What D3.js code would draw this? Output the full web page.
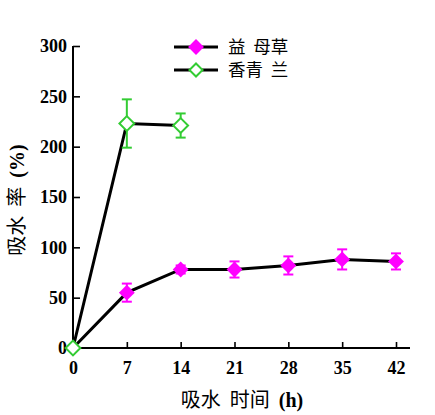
<!DOCTYPE html>
<html>
<head>
<meta charset="utf-8">
<script src="https://cdn.jsdelivr.net/npm/d3@7"></script>
<style>
  body { margin: 0; background: #fff; }
  svg { display: block; }
  text { white-space: pre; }
</style>
</head>
<body>
<script>
// values
const hours = [0, 7, 14, 21, 28, 35, 42];
const yimucao = [0, 55, 78, 78, 82, 88, 86];
const yimucaoErr = [0, 9, 4, 8, 9, 10, 8];
const xiangqinglan = [0, 223, 221];
const xiangqinglanErr = [0, 24, 12];
const yTicks = [0, 50, 100, 150, 200, 250, 300];
const seriesNames = ["益  母草", "香青  兰"];

const width = 435, height = 415;
const margin = { left: 73, right: 25, top: 46, bottom: 67 };

const svg = d3.select("body").append("svg")
    .attr("width", width)
    .attr("height", height);

const x = d3.scaleLinear().domain([0, 42]).range([margin.left, 396]);
const y = d3.scaleLinear().domain([0, 300]).range([height - margin.bottom, margin.top]);

const tickFont = "'Liberation Serif', 'Times New Roman', serif";
const cjkFont = "'Noto Sans CJK SC', sans-serif";

// axes
const xAxis = svg.append("g")
    .attr("transform", `translate(0,${y(0)})`)
    .call(d3.axisBottom(x).tickValues(hours).tickSize(-6).tickPadding(13));
xAxis.select(".domain").remove();
xAxis.append("line")
    .attr("x1", margin.left).attr("x2", 410)
    .attr("stroke", "#000").attr("stroke-width", 2);

const yAxis = svg.append("g")
    .attr("transform", `translate(${margin.left},0)`)
    .call(d3.axisLeft(y).tickValues(yTicks).tickSize(-7).tickPadding(6));
yAxis.select(".domain").remove();
yAxis.append("line")
    .attr("y1", y(0)).attr("y2", y(300))
    .attr("stroke", "#000").attr("stroke-width", 2);

svg.selectAll(".tick line").attr("stroke", "#000").attr("stroke-width", 1.6);
svg.selectAll(".tick text")
    .attr("fill", "#000")
    .style("font-family", tickFont)
    .style("font-weight", "bold")
    .style("font-size", "18px");
xAxis.selectAll(".tick")
    .filter(d => d === 0)
    .select("line").remove();

// axis titles
const xTitle = svg.append("text")
    .attr("x", 242).attr("y", 407)
    .attr("text-anchor", "middle")
    .style("font-size", "20px");
xTitle.append("tspan").style("font-family", cjkFont).text("吸水  时间  ");
xTitle.append("tspan").style("font-family", tickFont).style("font-weight", "bold").text("(h)");

const yTitle = svg.append("text")
    .attr("transform", "translate(24,200) rotate(-90)")
    .attr("text-anchor", "middle")
    .style("font-size", "20px");
yTitle.append("tspan").style("font-family", cjkFont).text("吸水  率  ");
yTitle.append("tspan").style("font-family", tickFont).style("font-weight", "bold").text("(%)");

const line = d3.line()
    .x((d, i) => x(hours[i]))
    .y(d => y(d));

const diamond = d3.symbol().type(d3.symbolDiamond2);

function drawSeries(values, errs, color, filled, size) {
    const g = svg.append("g");
    g.append("path")
        .datum(values)
        .attr("d", line)
        .attr("fill", "none")
        .attr("stroke", "#000")
        .attr("stroke-width", 3);

    const pts = values.map((v, i) => ({ h: hours[i], v: v, e: errs[i] }));
    const eb = g.selectAll(".err")
        .data(pts.filter(d => d.e > 0))
        .enter().append("g")
        .attr("stroke", color)
        .attr("stroke-width", 2);
    eb.append("line")
        .attr("x1", d => x(d.h)).attr("x2", d => x(d.h))
        .attr("y1", d => y(d.v + d.e)).attr("y2", d => y(d.v - d.e));
    eb.append("line")
        .attr("x1", d => x(d.h) - 5).attr("x2", d => x(d.h) + 5)
        .attr("y1", d => y(d.v + d.e)).attr("y2", d => y(d.v + d.e));
    eb.append("line")
        .attr("x1", d => x(d.h) - 5).attr("x2", d => x(d.h) + 5)
        .attr("y1", d => y(d.v - d.e)).attr("y2", d => y(d.v - d.e));

    g.selectAll(".pt")
        .data(pts)
        .enter().append("path")
        .attr("transform", d => `translate(${x(d.h)},${y(d.v)})`)
        .attr("d", diamond.size(size))
        .attr("fill", filled ? color : "#fff")
        .attr("stroke", color)
        .attr("stroke-width", filled ? 0 : 2);
}

drawSeries(yimucao, yimucaoErr, "#ff00ff", true, 160);
drawSeries(xiangqinglan, xiangqinglanErr, "#33cc33", false, 140);

// legend
const legendColors = ["#ff00ff", "#33cc33"];
const legend = svg.append("g");
seriesNames.forEach((name, i) => {
    const ly = 47 + i * 23;
    legend.append("line")
        .attr("x1", 174).attr("x2", 218)
        .attr("y1", ly).attr("y2", ly)
        .attr("stroke", "#000").attr("stroke-width", 3);
    legend.append("path")
        .attr("transform", `translate(196,${ly})`)
        .attr("d", diamond.size(i === 0 ? 160 : 110))
        .attr("fill", i === 0 ? legendColors[i] : "#fff")
        .attr("stroke", legendColors[i])
        .attr("stroke-width", i === 0 ? 0 : 2);
    legend.append("text")
        .attr("x", 228).attr("y", ly + 6)
        .style("font-family", cjkFont)
        .style("font-size", "17.5px")
        .text(name);
});
</script>
</body>
</html>
